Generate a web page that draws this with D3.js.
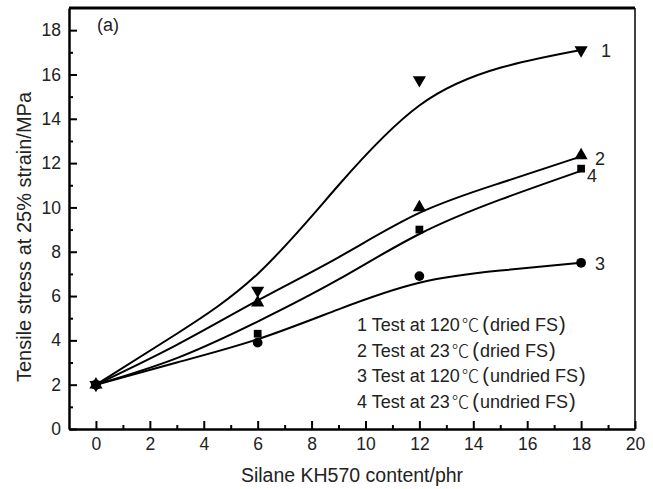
<!DOCTYPE html>
<html>
<head>
<meta charset="utf-8">
<script src="https://cdn.jsdelivr.net/npm/d3@7"></script>
<style>
  body { margin: 0; background: #fff; }
  svg { font-family: "Liberation Sans", Arial, sans-serif; }
</style>
</head>
<body>
<svg id="chart" width="653" height="489"></svg>
<script>
// measured points (silane content vs tensile stress)
const content = [0, 6, 12, 18];
const s1 = [2.0, 6.25, 15.75, 17.1];   // 120C dried
const s2 = [2.0, 5.7, 10.0, 12.35];    // 23C dried
const s3 = [2.0, 3.9, 6.9, 7.5];       // 120C undried
const s4 = [2.0, 4.3, 9.0, 11.75];     // 23C undried

// fitted curves
const fitX = [0, 3, 6, 9, 12, 15, 18];
const fit1 = [2.0, 4.3, 7.0, 11.0, 14.6, 16.3, 17.1];
const fit2 = [2.0, 3.8, 5.8, 7.75, 9.75, 11.1, 12.3];
const fit3 = [2.0, 3.0, 4.05, 5.4, 6.6, 7.15, 7.5];
const fit4 = [2.0, 3.2, 4.85, 6.75, 8.8, 10.35, 11.65];

const xTicks = [0, 2, 4, 6, 8, 10, 12, 14, 16, 18, 20];
const yTicks = [0, 2, 4, 6, 8, 10, 12, 14, 16, 18];

const legendNum = ["1", "2", "3", "4"];
const legendTemp = ["120", "23", "120", "23"];
const legendCond = ["dried FS", "dried FS", "undried FS", "undried FS"];

const svg = d3.select("#chart");
var margin = {top: 8, right: 18, bottom: 60, left: 69};
var width = 653 - margin.left - margin.right,
    height = 489 - margin.top - margin.bottom;

const g = svg.append("g")
    .attr("transform", "translate(" + margin.left + "," + margin.top + ")");

const x = d3.scaleLinear().domain([-1, 20]).range([0, width]);
const y = d3.scaleLinear().domain([0, 19]).range([height, 0]);

// frame: top and right
g.append("line").attr("x1", 0).attr("x2", width).attr("y1", 0).attr("y2", 0)
    .attr("stroke", "#000").attr("stroke-width", 3);
g.append("line").attr("x1", width).attr("x2", width).attr("y1", 0).attr("y2", height)
    .attr("stroke", "#000").attr("stroke-width", 1.5);

// minor ticks
g.append("g")
    .attr("transform", "translate(0," + height + ")")
    .call(d3.axisBottom(x).tickValues(d3.range(1, 20, 2)).tickSize(-4).tickFormat(""))
    .call(a => a.select(".domain").remove())
    .selectAll("line").attr("stroke-width", 2);
g.append("g")
    .call(d3.axisLeft(y).tickValues(d3.range(1, 19, 2)).tickSize(-4).tickFormat(""))
    .call(a => a.select(".domain").remove())
    .selectAll("line").attr("stroke-width", 2);

// major axes
const xAxis = g.append("g")
    .attr("transform", "translate(0," + height + ")")
    .call(d3.axisBottom(x).tickValues(xTicks).tickSize(-8).tickSizeOuter(0).tickPadding(9));
const yAxis = g.append("g")
    .call(d3.axisLeft(y).tickValues(yTicks).tickSize(-8).tickSizeOuter(0).tickPadding(8));

[xAxis, yAxis].forEach(a => {
    a.select(".domain").attr("stroke-width", 2.5);
    a.selectAll(".tick line").attr("stroke-width", 2);
    a.selectAll("text").style("font-size", "17.5px").attr("fill", "#222");
});

// axis titles
svg.append("text")
    .attr("x", 352).attr("y", 482)
    .attr("text-anchor", "middle")
    .style("font-size", "19.5px")
    .attr("fill", "#222")
    .text("Silane KH570 content/phr");

svg.append("text")
    .attr("transform", "translate(31,237) rotate(-90)")
    .attr("text-anchor", "middle")
    .style("font-size", "20px")
    .attr("fill", "#222")
    .text("Tensile stress at 25% strain/MPa");

svg.append("text")
    .attr("x", 97).attr("y", 31)
    .style("font-size", "18px")
    .attr("fill", "#222")
    .text("(a)");

// fitted curves
const line = d3.line()
    .x((d, i) => x(fitX[i]))
    .y(d => y(d))
    .curve(d3.curveNatural);

[fit1, fit2, fit3, fit4].forEach(f => {
    g.append("path")
        .datum(f)
        .attr("fill", "none")
        .attr("stroke", "#000")
        .attr("stroke-width", 2)
        .attr("d", line);
});

// markers
const sym = [
    {data: s1, type: d3.symbolTriangle, rot: 180, size: 75},
    {data: s2, type: d3.symbolTriangle, rot: 0, size: 75},
    {data: s3, type: d3.symbolCircle, rot: 0, size: 75},
    {data: s4, type: d3.symbolSquare, rot: 0, size: 60}
];
sym.forEach(s => {
    g.append("g").selectAll("path")
        .data(s.data)
        .join("path")
        .attr("d", d3.symbol().type(s.type).size(s.size))
        .attr("transform", (d, i) => "translate(" + x(content[i]) + "," + y(d) + ") rotate(" + s.rot + ")")
        .attr("fill", "#000");
});

// series numbers at line ends
const endLabels = [
    {t: "1", v: s1[3], dx: 20, dy: 1},
    {t: "2", v: s2[3], dx: 14, dy: 3},
    {t: "3", v: s3[3], dx: 14, dy: 1},
    {t: "4", v: s4[3], dx: 6, dy: 7}
];
endLabels.forEach(l => {
    g.append("text")
        .attr("x", x(18) + l.dx)
        .attr("y", y(l.v) + l.dy)
        .attr("dy", "0.35em")
        .style("font-size", "18px")
        .attr("fill", "#222")
        .text(l.t);
});

// legend text
const leg = svg.append("g").attr("transform", "translate(357,325)");
legendNum.forEach((n, i) => {
    const t = leg.append("text")
        .attr("y", i * 25.5)
        .attr("dy", "0.36em")
        .style("font-size", "18px")
        .attr("fill", "#222");
    t.append("tspan").text(n + " Test at " + legendTemp[i]);
    t.append("tspan").attr("dx", 2)
        .style("font-family", "'Noto Sans CJK SC'").style("font-weight", 300).style("font-size", "17.5px")
        .text("℃");
    t.append("tspan").attr("dx", 3).style("font-size", "20px").text("(");
    t.append("tspan").attr("dx", 1).text(legendCond[i]);
    t.append("tspan").attr("dx", 1).style("font-size", "20px").text(")");
});
</script>
</body>
</html>
